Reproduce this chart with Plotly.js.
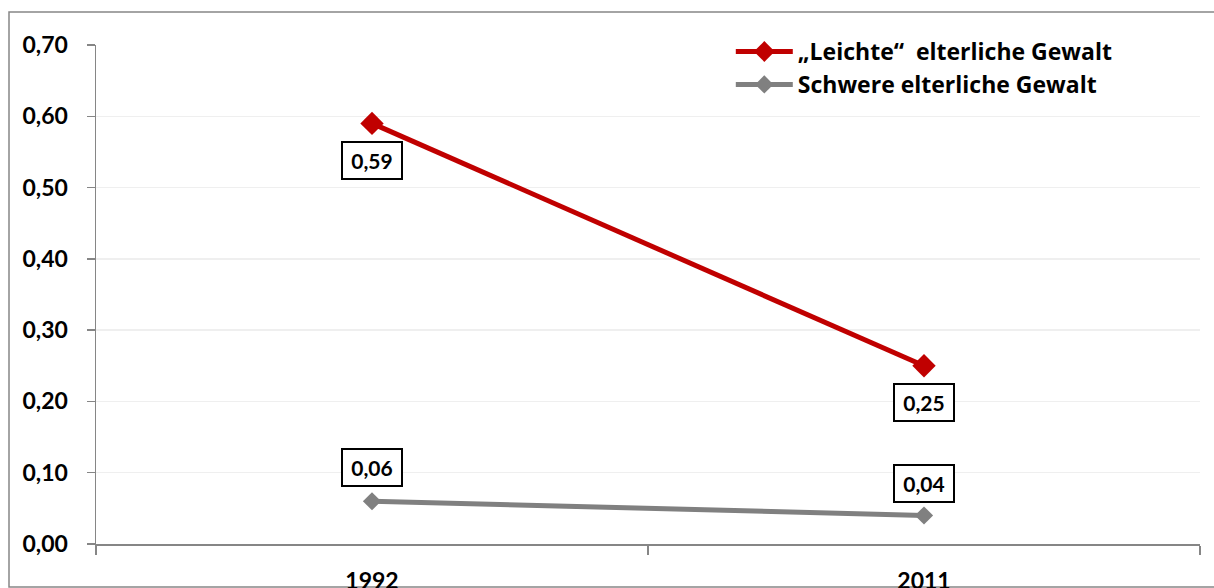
<!DOCTYPE html>
<html>
<head>
<meta charset="utf-8">
<script src="https://cdn.plot.ly/plotly-3.0.1.min.js"></script>
<style>
html,body{margin:0;padding:0;background:#fff;}
#chart{width:1214px;height:588px;}
</style>
</head>
<body>
<div id="chart"></div>
<script>
const years = ["1992", "2011"];
const leichte = [0.59, 0.25];
const schwere = [0.06, 0.04];
const seriesNames = ["\u201eLeichte\u201c  elterliche Gewalt", "Schwere elterliche Gewalt"];
const yTicks = [0, 0.1, 0.2, 0.3, 0.4, 0.5, 0.6, 0.7];

const FONT = "Lato, 'Open Sans', sans-serif";
const LFONT = "'Open Sans', Lato, sans-serif";
const fmt = v => v.toFixed(2).replace('.', ',');

const traces = [
  {
    x: years, y: leichte, type: 'scatter', mode: 'lines+markers',
    name: seriesNames[0], legendgroup: 'a',
    line: {color: '#C00000', width: 5},
    marker: {symbol: 'diamond', size: 18, color: '#C00000'}
  },
  {
    x: years, y: schwere, type: 'scatter', mode: 'lines+markers',
    name: seriesNames[1], legendgroup: 'b',
    line: {color: '#808080', width: 5},
    marker: {symbol: 'diamond', size: 14, color: '#808080'}
  }
];

const annotations = [];
const labelShift = [[-37, -37], [34, 32]];
[leichte, schwere].forEach((arr, si) => {
  arr.forEach((v, i) => {
    annotations.push({
      x: i, y: v, xref: 'x', yref: 'y',
      text: '<b>' + fmt(v) + '</b>', showarrow: false,
      yshift: labelShift[si][i],
      font: {family: FONT, size: 21, color: '#000'},
      width: 48, height: 25,
      bgcolor: '#ffffff', bordercolor: '#000000', borderwidth: 2, borderpad: 5
    });
  });
});

const layout = {
  width: 1214, height: 588,
  margin: {l: 96, r: 14, t: 45, b: 44},
  paper_bgcolor: '#fff', plot_bgcolor: '#fff',
  showlegend: true,
  legend: {
    x: 0.575, y: 1.03, xanchor: 'left', yanchor: 'top',
    font: {family: LFONT, size: 23, color: '#000', weight: 'bold'},
    itemwidth: 57, traceorder: 'grouped', tracegroupgap: 0,
    bgcolor: 'rgba(0,0,0,0)'
  },
  xaxis: {
    type: 'category', range: [-0.5, 1.5],
    showgrid: false, zeroline: false,
    showline: true, linecolor: '#868686', linewidth: 1.5,
    tickson: 'boundaries', ticks: 'outside', ticklen: 9, tickcolor: '#868686', tickwidth: 1.5,
    ticklabelstandoff: 16,
    tickfont: {family: FONT, size: 23, color: '#000', weight: 'bold'}
  },
  yaxis: {
    range: [0, 0.7], tickmode: 'array', tickvals: yTicks,
    ticktext: yTicks.map(fmt),
    showgrid: true, gridcolor: '#EFEFEF', gridwidth: 1.5,
    zeroline: false,
    showline: true, linecolor: '#868686', linewidth: 1.5,
    ticks: 'outside', ticklen: 8, tickcolor: '#868686', tickwidth: 1.5,
    ticklabelstandoff: 14,
    tickfont: {family: FONT, size: 23, color: '#000', weight: 'bold'}
  },
  annotations: annotations,
  shapes: [{
    type: 'rect', xref: 'paper', yref: 'paper',
    x0: (9 - 96) / 1104, x1: (1220 - 96) / 1104,
    y0: (544 - 587) / 499, y1: (544 - 12) / 499,
    line: {color: '#868686', width: 1.5}, layer: 'below'
  }]
};

Plotly.newPlot('chart', traces, layout, {displayModeBar: false, staticPlot: true});
</script>
</body>
</html>
